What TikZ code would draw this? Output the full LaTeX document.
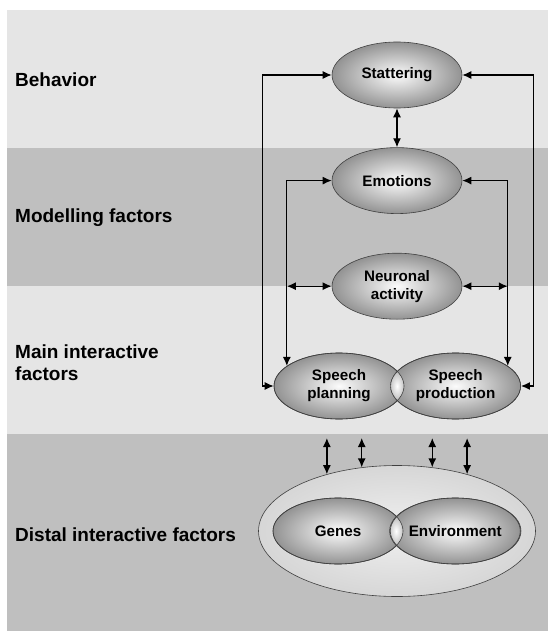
\documentclass[tikz,border=0pt]{standalone}
\usepackage{fontspec}
\setmainfont{Liberation Sans}
\usetikzlibrary{arrows.meta,shapes.geometric}
\usetikzlibrary{positioning}
\tikzstyle{lightband} = [fill=gray!20]
\tikzstyle{darkband} = [fill=gray!50]
\tikzstyle{level} = [anchor=base west, inner sep=0pt, font=\fontsize{19}{22}\selectfont\bfseries, align=left]
\tikzstyle{factor} = [ellipse, draw=black!75, line width=0.6pt, minimum width=130pt, minimum height=66pt, inner sep=0pt, inner color=gray!3, outer color=gray!85, font=\fontsize{15.2}{18}\selectfont\bfseries, align=center]
\tikzstyle{rim} = [draw=black!75, line width=0.6pt]
\tikzstyle{link} = [line width=1.3pt, {Latex[length=9pt,width=8pt]}-{Latex[length=9pt,width=8pt]}]

\begin{document}
\begin{tikzpicture}[x=1pt, y=-1pt, node distance=39pt]
\useasboundingbox (0,0) rectangle (548,631);
\fill[white] (0,0) rectangle (548,631);

% bands
\fill[lightband] (7,10) rectangle (548,148);
\fill[darkband] (7,148) rectangle (548,286);
\fill[lightband] (7,286) rectangle (548,434);
\fill[darkband] (7,434) rectangle (548,631);

% levels
\node (behavior) [level] at (15,87) {Behavior};
\node (modelling) [level] at (15,222.5) {Modelling factors};
\node (main) [level, anchor=west] at (15,363) {Main interactive\\factors};
\node (distalText) [level] at (15,541.5) {Distal interactive factors};

% factors
\node (stat) [factor] at (397,75) {Stattering};
\node (emo) [factor, below=of stat] {Emotions};
\node (neur) [factor, below=of emo] {Neuronal\\activity};
\node (plan) [factor] at (339,386) {Speech\\planning};
\node (prod) [factor, right=-14pt of plan] {Speech\\production};

\node (distal) [ellipse, rim, minimum width=277pt, minimum height=131pt, inner sep=0pt, inner color=gray!12, outer color=gray!32] at (397,531) {};
\node (genes) [factor] at (338,531) {Genes};
\node (env) [factor, right=-14pt of genes] {Environment};

% overlaps
\begin{scope}
\clip (plan.center) ellipse (65 and 33);
\clip (prod.center) ellipse (65 and 33);
\shade[inner color=white, outer color=gray!60] (397,386) ellipse (9 and 17);
\end{scope}
\draw[rim] (plan.center) ellipse (65 and 33) (prod.center) ellipse (65 and 33);
\begin{scope}
\clip (genes.center) ellipse (65 and 33);
\clip (env.center) ellipse (65 and 33);
\shade[inner color=white, outer color=gray!60] (396,531) ellipse (9 and 17);
\end{scope}
\draw[rim] (genes.center) ellipse (65 and 33) (env.center) ellipse (65 and 33);

% connections
\draw[link] (stat) -- (emo);
\draw[link] (stat.west) -- ++(-69,0) |- (plan.west);
\draw[link] (stat.east) -- ++(71,0) |- (prod.east);
\draw[link] (emo.west) -| (plan.159);
\draw[link] (emo.east) -| (prod.21);
\draw[link] (neur.west) -- (neur.west -| plan.159);
\draw[link] (neur.east) -- (neur.east -| prod.21);
\foreach \a in {141,119,61,39}
  \draw[link] (distal.\a) -- (distal.\a |- 0,438);
\end{tikzpicture}
\end{document}
